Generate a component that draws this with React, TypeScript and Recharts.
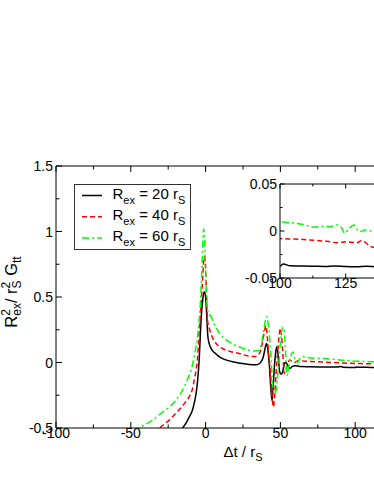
import { LineChart, Line, XAxis, YAxis, Legend, Label } from 'recharts';

const FONT = '"Liberation Sans", Arial, Helvetica, sans-serif';

// R_ex = 20 r_S
const tBlack = [-20, -15.4, -13, -10.9, -9, -7.6, -6.4, -5.3, -4.2, -3.5, -3, -2, -1, 0, 0.8, 1.5, 2.5, 3.6, 5, 7, 9, 11.4, 14, 18, 22, 28, 33, 35.5, 37, 38.5, 39.8, 40.8, 41.6, 42.6, 43.5, 44.4, 45.2, 46, 47, 47.7, 48.5, 49.5, 50.5, 51.5, 53, 54, 55.3, 56.5, 58, 60, 63, 70, 80, 88, 90, 92, 100, 101.3, 103.8, 108, 112.7, 117, 121, 125, 129, 133, 137, 142, 150];
const gBlack = [-0.56, -0.5, -0.46, -0.415, -0.37, -0.31, -0.24, -0.135, 0.04, 0.22, 0.33, 0.47, 0.54, 0.5, 0.35, 0.2, 0.14, 0.11, 0.085, 0.065, 0.045, 0.03, 0.018, 0.005, -0.004, -0.013, -0.018, -0.012, 0.005, 0.04, 0.11, 0.145, 0.1, -0.02, -0.18, -0.29, -0.18, -0.03, 0.09, 0.12, 0.05, -0.07, -0.09, -0.07, 0, -0.005, -0.03, -0.045, -0.03, -0.025, -0.03, -0.032, -0.034, -0.035, -0.03, -0.036, -0.0375, -0.035, -0.037, -0.0372, -0.0375, -0.0378, -0.0372, -0.0378, -0.038, -0.0375, -0.0382, -0.0378, -0.038];

// R_ex = 40 r_S
const tRed = [-35, -31, -27.5, -24.3, -21, -17.6, -14, -10.9, -9, -7.6, -6.4, -5.3, -4.2, -3, -2, -1, -0.3, 0.5, 1.3, 2.5, 3.6, 5, 7, 10, 13.6, 18, 22.5, 29, 33, 36, 38, 39.5, 40.3, 41.2, 42.2, 43, 44.2, 45.3, 46.2, 47, 48.3, 49.3, 50, 50.8, 51.5, 52.6, 53.5, 54.8, 56, 57.5, 59, 61, 63, 66, 70, 80, 90, 100, 104, 107.6, 111, 115, 118, 121.6, 125.4, 129.2, 131.1, 133.7, 135, 140, 150];
const gRed = [-0.53, -0.5, -0.47, -0.44, -0.4, -0.36, -0.31, -0.26, -0.21, -0.135, -0.06, 0.04, 0.25, 0.45, 0.63, 0.81, 0.78, 0.55, 0.32, 0.26, 0.22, 0.18, 0.145, 0.115, 0.094, 0.08, 0.069, 0.048, 0.045, 0.07, 0.15, 0.25, 0.28, 0.2, 0.05, -0.03, -0.22, -0.34, -0.25, -0.1, 0.1, 0.22, 0.26, 0.2, 0.094, -0.085, -0.06, -0.02, 0.02, 0.01, 0, 0.01, 0.015, 0.01, 0.008, 0.002, -0.003, -0.008, -0.0085, -0.0088, -0.0095, -0.0104, -0.011, -0.0125, -0.0115, -0.0125, -0.01, -0.015, -0.017, -0.018, -0.018];

// R_ex = 60 r_S
const tGreen = [-48, -44.3, -40, -35.4, -30, -24.3, -20, -15.4, -12.5, -9.8, -8, -6.4, -4.9, -3.5, -2.5, -1.3, -0.5, 0.3, 1.3, 2.5, 3.6, 5, 8, 11, 15.8, 20, 25, 29, 33, 35.9, 37.5, 39, 40.8, 41.8, 42.6, 43.8, 44.8, 46, 47, 48, 48.8, 50, 51.5, 52.6, 53.5, 54.4, 55.5, 56.8, 58.3, 60, 61.5, 63, 65, 70, 80, 90, 100, 104, 107.6, 110, 112.7, 116.5, 119, 121.6, 123.5, 124.6, 126.3, 128.2, 130, 132.6, 135.1, 140, 150];
const gGreen = [-0.53, -0.5, -0.47, -0.44, -0.39, -0.34, -0.29, -0.21, -0.14, -0.06, 0.02, 0.12, 0.25, 0.45, 0.7, 1.02, 0.9, 0.6, 0.4, 0.37, 0.35, 0.31, 0.247, 0.2, 0.157, 0.13, 0.108, 0.094, 0.088, 0.095, 0.15, 0.26, 0.35, 0.3, 0.22, 0.02, -0.16, -0.24, -0.22, -0.12, -0.03, 0.15, 0.27, 0.235, 0.07, -0.1, -0.04, 0.04, 0.08, 0.02, 0, 0.03, 0.045, 0.035, 0.03, 0.02, 0.01, 0.009, 0.0075, 0.006, 0.004, 0.005, 0.0045, 0.0064, 0.003, -0.0025, 0.003, 0.0064, -0.0007, 0.001, 0, 0, 0];

const radii = [20, 40, 60];

const mainXTicks = [-100, -75, -50, -25, 0, 25, 50, 75, 100, 125, 150];
const mainXMajor = [-100, -50, 0, 50, 100, 150];
const mainXLabelled = [-100, -50, 0, 50, 100];
const mainYTicks = [-0.5, -0.25, 0, 0.25, 0.5, 0.75, 1, 1.25, 1.5];
const mainYMajor = [-0.5, 0, 0.5, 1, 1.5];
const insetXTicks = [100, 112.5, 125, 137.5, 150];
const insetXMajor = [100, 125, 150];
const insetXLabelled = [100, 125];
const insetYTicks = [-0.05, -0.025, 0, 0.025, 0.05];
const insetYMajor = [-0.05, 0, 0.05];

const rows = (t: number[], g: number[]) => t.map((v, i) => ({ t: v, g: g[i] }));

const series = [
  { data: rows(tBlack, gBlack), color: '#000000', dash: undefined as string | undefined },
  { data: rows(tRed, gRed), color: '#ff0000', dash: '5 3' },
  { data: rows(tGreen, gGreen), color: '#00ff00', dash: '7 3 2 3' },
];

type Side = 'bottom' | 'top' | 'left' | 'right';

const TICK_FS = 14;

// inward ticks; text only where the label list says so (the 150 labels fall outside the crop)
const makeTick = (side: Side, major: number[], big: number, small: number, labelled: number[]) => (props: any) => {
  const { x, y, payload } = props;
  const v = payload.value;
  const len = major.includes(v) ? big : small;
  let l = { x1: x, y1: y, x2: x, y2: y - len };
  if (side === 'top') l = { x1: x, y1: y, x2: x, y2: y + len };
  if (side === 'left') l = { x1: x, y1: y, x2: x + len, y2: y };
  if (side === 'right') l = { x1: x, y1: y, x2: x - len, y2: y };
  let text = null;
  if (labelled.includes(v) && side === 'bottom') {
    text = (
      <text x={x} y={y + 10.2} textAnchor="middle" fontFamily={FONT} fontSize={TICK_FS} fill="#000">
        {String(v)}
      </text>
    );
  }
  if (labelled.includes(v) && side === 'left') {
    text = (
      <text x={x - 3} y={y} dy="0.36em" textAnchor="end" fontFamily={FONT} fontSize={TICK_FS} fill="#000">
        {String(v)}
      </text>
    );
  }
  return (
    <g>
      <line {...l} stroke="#000" strokeWidth={1} />
      {text}
    </g>
  );
};

const YLabel = (props: any) => {
  const vb = props.viewBox;
  const cx = vb.x + 1;
  const cy = vb.y + vb.height / 2 - 5;
  return (
    <text x={cx} y={cy} transform={`rotate(-90 ${cx} ${cy})`} textAnchor="middle" fontFamily={FONT} fontSize={16.5} fill="#000">
      R<tspan fontSize={12} dy={-7}>2</tspan>
      <tspan fontSize={12} dx={-6.7} dy={11}>ex</tspan>
      <tspan dy={-4}>/ r</tspan>
      <tspan fontSize={12} dy={-7}>2</tspan>
      <tspan fontSize={12} dx={-6.7} dy={11}>S</tspan>
      <tspan dy={-4}>{' G'}</tspan>
      <tspan fontSize={12} dy={4}>tt</tspan>
    </text>
  );
};

const XLabel = (props: any) => {
  const vb = props.viewBox;
  const cx = vb.x + vb.width / 2;
  return (
    <text x={cx} y={vb.y + 28.5} textAnchor="middle" fontFamily={FONT} fontSize={15} fill="#000">
      Δt / r<tspan fontSize={11} dy={4}>S</tspan>
    </text>
  );
};

const LegendBox = () => (
  <svg width={119} height={67} style={{ display: 'block' }}>
    <rect x={0.5} y={0.5} width={116} height={65} fill="#fff" stroke="#333" />
    {series.map((s, i) => {
      const by = 14.5 + i * 21.3;
      return (
        <g key={i}>
          <line x1={8} x2={28} y1={by - 3} y2={by - 3} stroke={s.color} strokeWidth={1.5} strokeDasharray={s.dash} />
          <text x={38.5} y={by} fontFamily={FONT} fontSize={15} fill="#000">
            R<tspan fontSize={11} dy={5}>ex</tspan>
            <tspan dy={-5}>{` = ${radii[i]} r`}</tspan>
            <tspan fontSize={11} dy={5}>S</tspan>
          </text>
        </g>
      );
    })}
  </svg>
);

const axisLine = { stroke: '#000', strokeWidth: 1 };

export default function App() {
  return (
    <div style={{ position: 'fixed', left: 0, top: 0, width: 374, height: 484, overflow: 'hidden', background: '#fff' }}>
      <div style={{ position: 'absolute', left: 0, top: 0 }}>
        <LineChart width={446} height={478} margin={{ top: 160, right: 10, bottom: 20, left: 16 }}>
          <XAxis
            dataKey="t"
            type="number"
            domain={[-100, 150]}
            allowDataOverflow
            ticks={mainXTicks}
            interval={0}
            height={30}
            tickSize={0}
            tickMargin={0}
            tickLine={false}
            axisLine={axisLine}
            tick={makeTick('bottom', mainXMajor, 6, 3.5, mainXLabelled)}
          >
            <Label content={XLabel} />
          </XAxis>
          <XAxis
            xAxisId="top"
            orientation="top"
            dataKey="t"
            type="number"
            domain={[-100, 150]}
            allowDataOverflow
            ticks={mainXTicks}
            interval={0}
            height={6}
            tickSize={0}
            tickMargin={0}
            tickLine={false}
            axisLine={axisLine}
            tick={makeTick('top', mainXMajor, 6, 3.5, [])}
          />
          <YAxis
            type="number"
            domain={[-0.5, 1.5]}
            allowDataOverflow
            ticks={mainYTicks}
            interval={0}
            width={40}
            tickSize={0}
            tickMargin={0}
            tickLine={false}
            axisLine={axisLine}
            tick={makeTick('left', mainYMajor, 6, 3.5, mainYMajor)}
          >
            <Label content={YLabel} />
          </YAxis>
          <YAxis
            yAxisId="right"
            orientation="right"
            type="number"
            domain={[-0.5, 1.5]}
            allowDataOverflow
            ticks={mainYTicks}
            interval={0}
            width={6}
            tickSize={0}
            tickMargin={0}
            tickLine={false}
            axisLine={axisLine}
            tick={makeTick('right', mainYMajor, 6, 3.5, [])}
          />
          <Legend
            layout="vertical"
            align="center"
            verticalAlign="middle"
            wrapperStyle={{ left: 74, top: 184, width: 119, height: 67 }}
            content={() => <LegendBox />}
          />
          {series.map((s, i) => (
            <Line
              key={i}
              data={s.data}
              dataKey="g"
              type="monotone"
              stroke={s.color}
              strokeWidth={1.5}
              strokeDasharray={s.dash}
              dot={false}
              activeDot={false}
              isAnimationActive={false}
            />
          ))}
        </LineChart>
      </div>
      <div style={{ position: 'absolute', left: 230, top: 174 }}>
        <LineChart width={200} height={140} margin={{ top: 6, right: 14.6, bottom: 6, left: 10 }}>
          <XAxis
            dataKey="t"
            type="number"
            domain={[100, 150]}
            allowDataOverflow
            ticks={insetXTicks}
            interval={0}
            height={30}
            tickSize={0}
            tickMargin={0}
            tickLine={false}
            axisLine={axisLine}
            tick={makeTick('bottom', insetXMajor, 4.5, 2.5, insetXLabelled)}
          />
          <XAxis
            xAxisId="top"
            orientation="top"
            dataKey="t"
            type="number"
            domain={[100, 150]}
            allowDataOverflow
            ticks={insetXTicks}
            interval={0}
            height={4}
            tickSize={0}
            tickMargin={0}
            tickLine={false}
            axisLine={axisLine}
            tick={makeTick('top', insetXMajor, 4.5, 2.5, [])}
          />
          <YAxis
            type="number"
            domain={[-0.05, 0.05]}
            allowDataOverflow
            ticks={insetYTicks}
            interval={0}
            width={40}
            tickSize={0}
            tickMargin={0}
            tickLine={false}
            axisLine={axisLine}
            tick={makeTick('left', insetYMajor, 4.5, 2.5, insetYMajor)}
          />
          <YAxis
            yAxisId="right"
            orientation="right"
            type="number"
            domain={[-0.05, 0.05]}
            allowDataOverflow
            ticks={insetYTicks}
            interval={0}
            width={4}
            tickSize={0}
            tickMargin={0}
            tickLine={false}
            axisLine={axisLine}
            tick={makeTick('right', insetYMajor, 4.5, 2.5, [])}
          />
          {series.map((s, i) => (
            <Line
              key={i}
              data={s.data.filter((p) => p.t >= 88)}
              dataKey="g"
              type="monotone"
              stroke={s.color}
              strokeWidth={1.5}
              strokeDasharray={s.dash}
              dot={false}
              activeDot={false}
              isAnimationActive={false}
            />
          ))}
        </LineChart>
      </div>
    </div>
  );
}
